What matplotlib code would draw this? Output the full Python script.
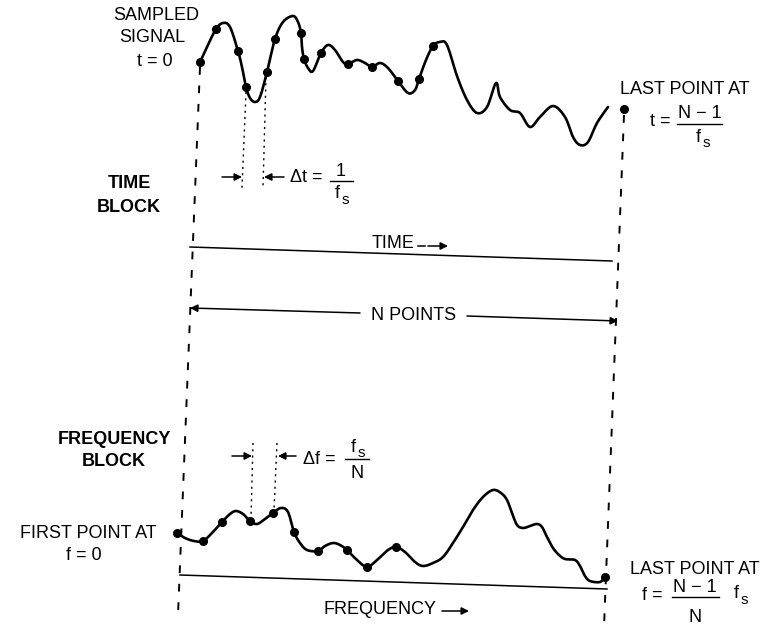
import matplotlib.pyplot as plt
import numpy as np

plt.rcParams['font.family'] = ['Liberation Sans', 'DejaVu Sans']

# Curva de la señal muestreada (coordenadas del dibujo, y hacia abajo)
time_x = [200, 207, 216, 223, 230, 238, 242, 246, 250, 255, 260, 267, 275, 283, 293,
          298, 301, 302, 304, 308, 313, 321, 328, 335, 343, 348, 357, 365, 372, 380,
          388, 398, 408, 415, 419, 426, 433, 440, 447, 457, 467, 477, 487, 496, 500,
          510, 520, 530, 540, 553, 565, 573, 580, 588, 597, 608]
time_y = [62, 47, 29, 23, 27, 51, 67, 87, 98, 102, 97, 72, 39, 22, 16,
          22, 33, 47, 59, 68, 71, 53, 45, 50, 62, 64, 60, 63, 67, 63,
          68, 81, 93, 90, 79, 60, 46, 42, 45, 76, 100, 113, 107, 83, 97,
          110, 113, 127, 117, 106, 117, 137, 145, 142, 123, 107]
time_samples_x = [200, 216, 238, 246, 267, 275, 301, 304, 321, 348, 372, 398, 419, 433, 624]
time_samples_y = [62, 29, 51, 87, 72, 39, 33, 59, 53, 64, 67, 81, 79, 46, 109]

# Curva del bloque de frecuencia
freq_x = [177, 185, 194, 203, 212, 222, 230, 236, 243, 250, 257, 265, 273, 281, 288,
          294, 300, 307, 318, 325, 333, 340, 347, 357, 367, 377, 388, 396, 405, 415,
          423, 433, 443, 453, 463, 473, 483, 493, 501, 507, 512, 517, 523, 530, 537,
          542, 547, 553, 559, 565, 575, 580, 585, 590, 600, 605]
freq_y = [533, 538, 541, 541, 533, 522, 514, 511, 514, 521, 524, 519, 513, 508, 512,
          532, 543, 550, 551, 546, 543, 545, 550, 560, 567, 560, 550, 547, 552, 562,
          566, 563, 557, 543, 527, 510, 497, 490, 493, 500, 513, 525, 528, 526, 524,
          527, 537, 548, 555, 559, 560, 566, 576, 581, 582, 577]
freq_samples_x = [177, 203, 222, 250, 273, 294, 318, 347, 367, 396, 605]
freq_samples_y = [533, 541, 522, 521, 513, 532, 551, 550, 567, 547, 577]


def smooth(xs, ys, n=10):
    # spline Catmull-Rom para trazar la curva
    p = np.column_stack([xs, ys]).astype(float)
    p = np.vstack([p[0], p, p[-1]])
    t = np.linspace(0, 1, n, endpoint=False)[:, None]
    out = []
    for i in range(1, len(p) - 2):
        p0, p1, p2, p3 = p[i - 1], p[i], p[i + 1], p[i + 2]
        out.append(0.5 * (2 * p1 + (-p0 + p2) * t + (2 * p0 - 5 * p1 + 4 * p2 - p3) * t ** 2
                          + (-p0 + 3 * p1 - 3 * p2 + p3) * t ** 3))
    out.append(p[-2][None, :])
    return np.vstack(out)


fig = plt.figure(figsize=(7.69, 6.29), dpi=100)
ax = fig.add_axes([0, 0, 1, 1])
ax.set_xlim(0, 769)
ax.set_ylim(629, 0)
ax.axis('off')

fs = 13
dash = (0, (4.0, 5.5))
dot = (0, (1.5, 3.0))

# Curvas y muestras
c = smooth(time_x, time_y)
ax.plot(c[:, 0], c[:, 1], color='k', lw=1.9, solid_capstyle='round')
ax.plot(time_samples_x, time_samples_y, 'o', color='k', ms=5.5)
c = smooth(freq_x, freq_y)
ax.plot(c[:, 0], c[:, 1], color='k', lw=1.9, solid_capstyle='round')
ax.plot(freq_samples_x, freq_samples_y, 'o', color='k', ms=5.5)

# Líneas verticales discontinuas
ax.plot([200, 178], [67, 615], color='k', lw=1.4, linestyle=dash)
ax.plot([624, 604], [115, 627], color='k', lw=1.4, linestyle=dash)

# Líneas punteadas de Δt y Δf
ax.plot([246, 242], [92, 188], color='k', lw=1.0, linestyle=dot)
ax.plot([266, 263], [77, 188], color='k', lw=1.0, linestyle=dot)
ax.plot([253, 251], [443, 518], color='k', lw=1.0, linestyle=dot)
ax.plot([277, 274], [443, 510], color='k', lw=1.0, linestyle=dot)

arrow = dict(arrowstyle='-|>', color='k', lw=1.1, mutation_scale=11, shrinkA=0, shrinkB=0)


def arr(tail, tip):
    ax.annotate('', xy=tip, xytext=tail, arrowprops=arrow)


def f_s(x, y):
    # f con subíndice s
    ax.text(x - 4, y - 2, 'f', fontsize=fs, ha='center', va='center')
    ax.text(x + 4, y + 4, 's', fontsize=fs - 2, ha='center', va='center')


# Δt
arr((222, 177), (242, 177))
arr((284, 177), (264, 177))
ax.text(306, 177, 'Δt =', fontsize=fs, ha='center', va='center')
ax.text(341, 171, '1', fontsize=fs, ha='center', va='center')
ax.plot([330, 353], [181, 181], color='k', lw=1.0)
f_s(341, 196)

# Δf
arr((232, 456), (252, 456))
arr((296, 456), (278, 456))
ax.text(319, 459, 'Δf =', fontsize=fs, ha='center', va='center')
f_s(357, 449)
ax.plot([345, 369], [459, 459], color='k', lw=1.0)
ax.text(357, 474, 'N', fontsize=fs, ha='center', va='center')

# Eje de tiempo
ax.plot([190, 612], [247, 261], color='k', lw=1.1)
ax.text(393, 244, 'TIME', fontsize=fs, ha='center', va='center')
ax.plot([418, 425], [246, 246], color='k', lw=1.1)
arr((428, 246), (448, 246))

# N puntos
arr((360, 313), (190, 308))
arr((467, 316), (618, 321))
ax.text(414, 316, 'N POINTS', fontsize=fs, ha='center', va='center')

# Eje de frecuencia
ax.plot([180, 607], [575, 589], color='k', lw=1.1)
ax.text(380, 610, 'FREQUENCY', fontsize=fs, ha='center', va='center')
arr((442, 611), (469, 611))

# Textos
ax.text(156, 15, 'SAMPLED', fontsize=fs, ha='center', va='center')
ax.text(152, 38, 'SIGNAL', fontsize=fs, ha='center', va='center')
ax.text(155, 62, 't = 0', fontsize=fs, ha='center', va='center')
ax.text(129, 184, 'TIME', fontsize=fs, ha='center', va='center', fontweight='bold')
ax.text(129, 207, 'BLOCK', fontsize=fs, ha='center', va='center', fontweight='bold')
ax.text(114, 439, 'FREQUENCY', fontsize=fs, ha='center', va='center', fontweight='bold')
ax.text(114, 462, 'BLOCK', fontsize=fs, ha='center', va='center', fontweight='bold')
ax.text(88, 533, 'FIRST POINT AT', fontsize=fs, ha='center', va='center')
ax.text(84, 555, 'f = 0', fontsize=fs, ha='center', va='center')

ax.text(685, 90, 'LAST POINT AT', fontsize=fs, ha='center', va='center')
ax.text(660, 122, 't =', fontsize=fs, ha='center', va='center')
ax.text(700, 114, 'N − 1', fontsize=fs, ha='center', va='center')
ax.plot([677, 722], [124, 124], color='k', lw=1.0)
f_s(702, 139)

ax.text(695, 570, 'LAST POINT AT', fontsize=fs, ha='center', va='center')
ax.text(652, 596, 'f =', fontsize=fs, ha='center', va='center')
ax.text(695, 588, 'N − 1', fontsize=fs, ha='center', va='center')
ax.plot([672, 719], [597, 597], color='k', lw=1.0)
ax.text(695, 618, 'N', fontsize=fs, ha='center', va='center')
f_s(740, 596)

fig.savefig('out.png', dpi=100)
